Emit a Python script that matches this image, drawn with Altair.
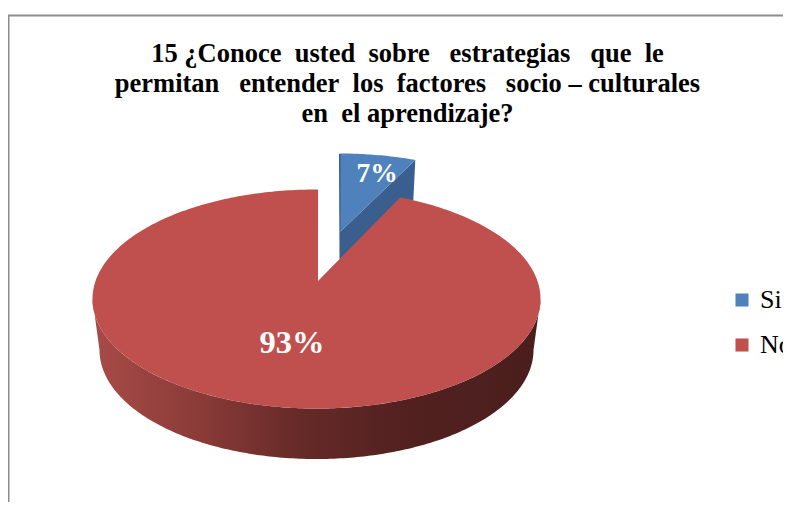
import math
import altair as alt
import pandas as pd

TITLE_LINES = [
    "15 ¿Conoce\u00a0 usted\u00a0 sobre\u00a0\u00a0 estrategias\u00a0\u00a0 que\u00a0 le",
    "permitan\u00a0\u00a0 entender\u00a0 los\u00a0 factores\u00a0\u00a0 socio – culturales",
    "en\u00a0 el aprendizaje?",
]
TITLE_Y = [62, 92, 122]
CATEGORIES = ["Si", "No"]
SHARES = [7, 93]
LABELS = ["7%", "93%"]
COLORS = ["#4F81BD", "#C0504D"]

# page-pixel style coordinate frame
X0, X1, Y0, Y1 = 8, 783, 8, 502
RX, RY = 224, 109.5
CX, CY = 316.5, 299
DEPTH_RX, DEPTH_RY, DEPTH_Y = 217, 109, 51
# perspective foreshortening of the 7 % slice's sweep
BLUE_SWEEP = math.radians(SHARES[0] * 3.6 * 0.785)
RED_START = math.radians(SHARES[0] * 3.6 * 0.87)


def ell(cx, cy, rx, ry, a):
    return cx + rx * math.sin(a), cy - ry * math.cos(a)


def arc(cx, cy, rx, ry, a0, a1, n=160):
    return [ell(cx, cy, rx, ry, a0 + (a1 - a0) * i / n) for i in range(n + 1)]


def frame(points):
    return pd.DataFrame({"x": [p[0] for p in points], "y": [p[1] for p in points], "i": range(len(points))})


x_scale = alt.Scale(domain=[X0, X1], range=[0, X1 - X0], nice=False, zero=False)
y_scale = alt.Scale(domain=[Y0, Y1], range=[0, Y1 - Y0], nice=False, zero=False)
X = alt.X("x:Q", scale=x_scale, axis=None)
Y = alt.Y("y:Q", scale=y_scale, axis=None)
ORDER = alt.Order("i:Q")


def poly(points, fill, **extra):
    return alt.Chart(frame(points)).mark_line(
        filled=True, fill=fill, stroke=None, interpolate="linear-closed", **extra
    ).encode(x=X, y=Y, order=ORDER)


# blue slice
bx, by = 339.5, 263
apex_b = (340, 232)
blue_arc = arc(bx, by, RX, RY, 0, BLUE_SWEEP, 30)
blue_side_pts = [apex_b, blue_arc[-1], (blue_arc[-1][0] - 2, blue_arc[-1][1] + 40), (apex_b[0], apex_b[1] + 27)]
blue_side = poly(blue_side_pts, "#3A5F8E")
blue_edge = poly([(339, 154), (340.5, 154), (340.5, 259), (339.5, 259)], "#3A5F8E")
blue_df = frame([apex_b] + blue_arc).assign(cat=CATEGORIES[0])

# red slice
apex_r = (318, 281)
red_arc = arc(CX, CY, RX, RY, RED_START, 2 * math.pi + math.radians(0.4), 400)
red_df = frame([apex_r] + red_arc).assign(cat=CATEGORIES[1])

top_faces = alt.Chart(pd.concat([blue_df, red_df])).mark_line(
    filled=True, interpolate="linear-closed", stroke=None
).encode(
    x=X,
    y=Y,
    order=ORDER,
    color=alt.Color(
        "cat:N",
        scale=alt.Scale(domain=CATEGORIES, range=COLORS),
        legend=alt.Legend(
            title=None,
            orient="none",
            legendX=729 - X0,
            legendY=287 - Y0,
            symbolType="square",
            symbolSize=170,
            symbolStrokeWidth=0,
            labelFont="Liberation Serif",
            labelFontSize=26,
            labelColor="#000000",
            labelOffset=5,
            rowPadding=19,
            padding=0,
        ),
    ),
)

# red wall
wall_top = arc(CX, CY, RX, RY, 3 * math.pi / 2, math.pi / 2, 200)
wall_bot = arc(CX, CY + DEPTH_Y, DEPTH_RX, DEPTH_RY, math.pi / 2, 3 * math.pi / 2, 200)
wall = poly(
    wall_top + wall_bot,
    alt.LinearGradient(
        gradient="linear", x1=0, x2=1, y1=0, y2=0,
        stops=[
            alt.GradientStop(offset=0, color="#A84B48"),
            alt.GradientStop(offset=0.24, color="#8A3B38"),
            alt.GradientStop(offset=0.46, color="#662A28"),
            alt.GradientStop(offset=0.69, color="#522120"),
            alt.GradientStop(offset=1, color="#4A1E1C"),
        ],
    ),
)

frame_df = pd.DataFrame({"x": [8.5, 8.5, X1], "y": [Y1, 15.5, 15.5], "i": [0, 1, 2]})
border = alt.Chart(frame_df).mark_line(color="#8C8C8C", strokeWidth=2).encode(x=X, y=Y, order=ORDER)

title_df = pd.DataFrame({"t": TITLE_LINES, "y": TITLE_Y, "x": [407.5] * 3})
title = alt.Chart(title_df).mark_text(
    font="Liberation Serif", fontWeight="bold", fontSize=26.5, color="#000000", baseline="alphabetic"
).encode(x=X, y=Y, text="t:N")

label_df = pd.DataFrame({"t": LABELS, "x": [377, 292], "y": [182, 353], "s": [27.5, 32.5]})
labels = alt.Chart(label_df).mark_text(
    font="Liberation Serif", fontWeight="bold", color="#FFFFFF", baseline="alphabetic"
).encode(x=X, y=Y, text="t:N", size=alt.Size("s:Q", scale=None, legend=None))

chart = alt.layer(border, blue_side, wall, top_faces, blue_edge, title, labels).properties(
    width=X1 - X0,
    height=Y1 - Y0,
    padding=0,
    autosize=alt.AutoSizeParams(type="none"),
    background="#FFFFFF",
).configure_view(stroke=None)

chart.save("out.html", embed_options={"renderer": "svg", "actions": False})
